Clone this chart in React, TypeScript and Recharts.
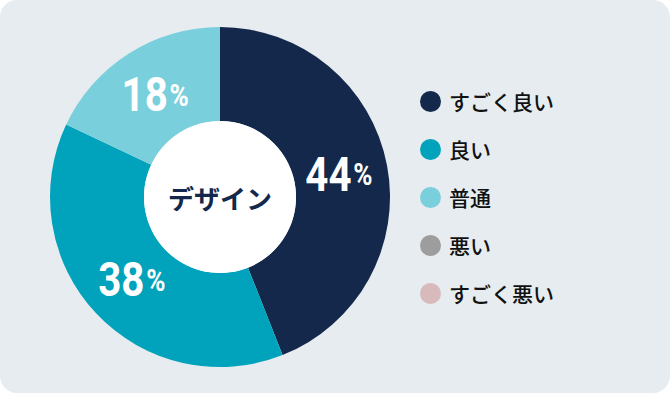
import { Cell, Legend, Pie, PieChart } from "recharts";

const CATEGORIES = ["すごく良い", "良い", "普通", "悪い", "すごく悪い"];
const VALUES = [44, 38, 18, 0, 0];
const COLORS = ["#13284a", "#00a3bb", "#7acfdc", "#9d9d9d", "#d9babc"];
const CENTER_TITLE = "デザイン";

const data = CATEGORIES.map((name, i) => ({ name, value: VALUES[i] }));
const hole = [{ name: "hole", value: 1 }];

const RADIAN = Math.PI / 180;
const CJK = '"Noto Sans CJK JP", "Noto Sans", sans-serif';

function PercentLabel(props: any) {
  const { cx, cy, midAngle, value } = props;
  if (!value) return null;
  const r = 121;
  const x = cx + r * Math.cos(-midAngle * RADIAN);
  const y = cy + r * Math.sin(-midAngle * RADIAN);
  return (
    <text
      transform={`translate(${x},${y}) scale(0.84,1)`}
      x={0}
      y={0}
      textAnchor="middle"
      dominantBaseline="central"
      fill="#fff"
      fontFamily="Roboto, sans-serif"
      fontWeight={700}
    >
      <tspan fontSize={48}>{value}</tspan>
      <tspan fontSize={31} dx={2}>%</tspan>
    </text>
  );
}

function CenterLabel(props: any) {
  const { cx, cy } = props;
  return (
    <text
      x={cx}
      y={cy}
      textAnchor="middle"
      dominantBaseline="central"
      fill="#13284a"
      fontFamily={CJK}
      fontSize={26}
      fontWeight={700}
    >
      {CENTER_TITLE}
    </text>
  );
}

function LegendList() {
  return (
    <div style={{ display: "flex", flexDirection: "column" }}>
      {data.map((d, i) => (
        <div
          key={d.name}
          style={{ display: "flex", alignItems: "center", height: 48 }}
        >
          <span
            style={{
              width: 21,
              height: 21,
              borderRadius: "50%",
              background: COLORS[i],
              marginRight: 8,
            }}
          />
          <span
            style={{
              fontFamily: CJK,
              fontSize: 21,
              fontWeight: 500,
              color: "#111",
              lineHeight: 1,
            }}
          >
            {d.name}
          </span>
        </div>
      ))}
    </div>
  );
}

export default function App() {
  return (
    <div
      style={{
        position: "fixed",
        left: 0,
        top: 0,
        width: 670,
        height: 393,
        background: "#fff",
      }}
    >
      <div
        style={{
          width: 670,
          height: 393,
          borderRadius: 17,
          background: "#e6ecef",
          overflow: "hidden",
        }}
      >
        <PieChart
          width={670}
          height={393}
          margin={{ top: 0, right: 0, bottom: 0, left: 0 }}
        >
          <Pie
            data={data}
            dataKey="value"
            nameKey="name"
            cx={220}
            cy={197}
            innerRadius={76}
            outerRadius={170}
            startAngle={90}
            endAngle={-270}
            stroke="none"
            label={PercentLabel}
            labelLine={false}
            isAnimationActive={false}
          >
            {data.map((d, i) => (
              <Cell key={d.name} fill={COLORS[i]} stroke="none" />
            ))}
          </Pie>
          <Pie
            data={hole}
            dataKey="value"
            cx={220}
            cy={197}
            innerRadius={0}
            outerRadius={76}
            fill="#fff"
            stroke="none"
            legendType="none"
            label={CenterLabel}
            labelLine={false}
            isAnimationActive={false}
          />
          <Legend
            layout="vertical"
            content={() => <LegendList />}
            wrapperStyle={{ left: 420, top: 77, width: 200 }}
          />
        </PieChart>
      </div>
    </div>
  );
}
